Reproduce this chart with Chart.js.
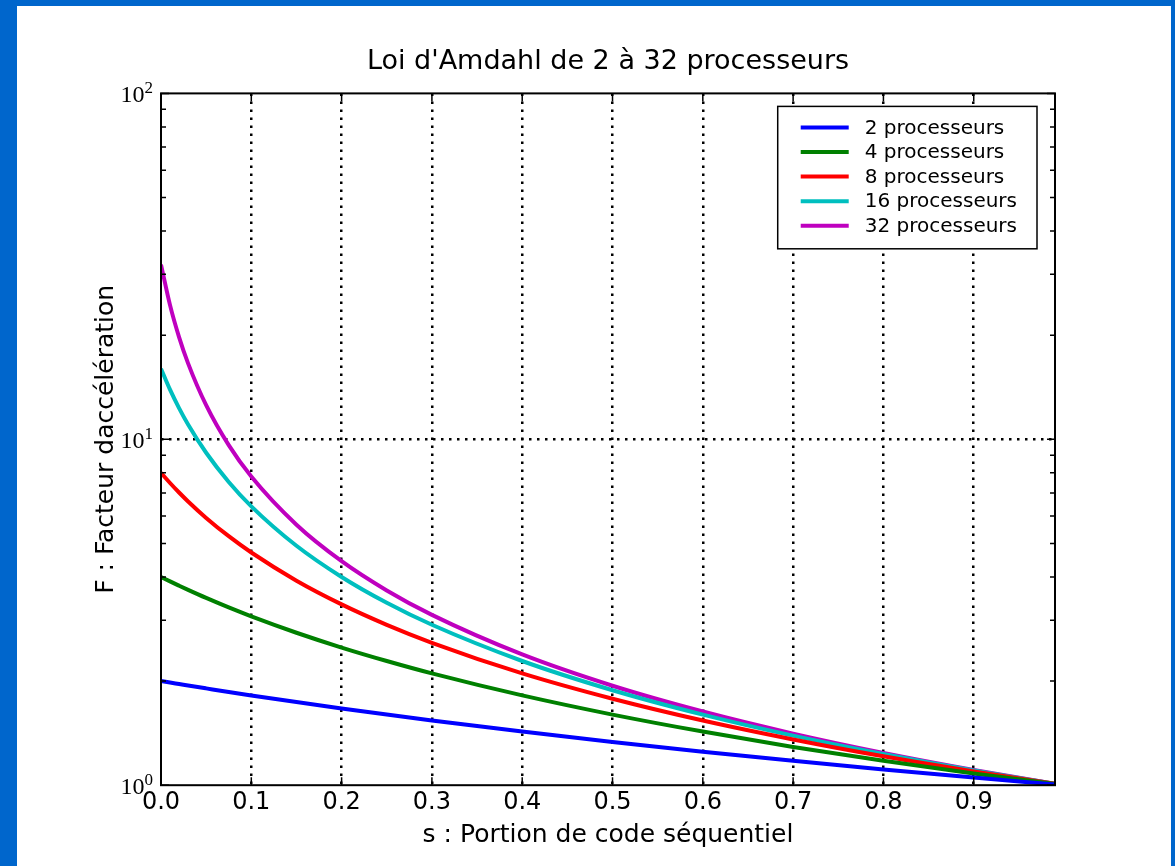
<!DOCTYPE html>
<html>
<head>
<meta charset="utf-8">
<script src="https://cdn.jsdelivr.net/npm/chart.js@4.4.0/dist/chart.umd.min.js"></script>
<style>
body { margin: 0; background: #0066cc; width: 1175px; height: 866px; overflow: hidden; }
#panel { position: absolute; left: 17px; top: 6px; width: 1154px; height: 860px; background: #fff; }
canvas { display: block; }
</style>
</head>
<body>
<div id="panel"><canvas id="amdahl" width="1154" height="860"></canvas></div>
<script>
// s : portion sequentielle du code
const sValues = [0, 0.01, 0.02, 0.03, 0.05, 0.075, 0.1, 0.15, 0.2, 0.25, 0.3, 0.4, 0.5, 0.6, 0.7, 0.8, 0.9, 0.99];

// facteur d'acceleration
const speedup2  = [2.0, 1.98, 1.961, 1.942, 1.905, 1.86, 1.818, 1.739, 1.667, 1.6, 1.538, 1.429, 1.333, 1.25, 1.176, 1.111, 1.053, 1.005];
const speedup4  = [4.0, 3.883, 3.774, 3.67, 3.478, 3.265, 3.077, 2.759, 2.5, 2.286, 2.105, 1.818, 1.6, 1.429, 1.29, 1.176, 1.081, 1.008];
const speedup8  = [8.0, 7.477, 7.018, 6.612, 5.926, 5.246, 4.706, 3.902, 3.333, 2.909, 2.581, 2.105, 1.778, 1.538, 1.356, 1.212, 1.096, 1.009];
const speedup16 = [16.0, 13.913, 12.308, 11.034, 9.143, 7.529, 6.4, 4.923, 4.0, 3.368, 2.909, 2.286, 1.882, 1.6, 1.391, 1.231, 1.103, 1.01];
const speedup32 = [32.0, 24.43, 19.75, 16.58, 12.55, 9.62, 7.805, 5.664, 4.444, 3.657, 3.107, 2.388, 1.939, 1.633, 1.41, 1.24, 1.107, 1.01];

const seriesLabels = ['2 processeurs', '4 processeurs', '8 processeurs', '16 processeurs', '32 processeurs'];
const seriesColors = ['#0000ff', '#008000', '#ff0000', '#00bfbf', '#bf00bf'];

const xTicks = [0, 0.1, 0.2, 0.3, 0.4, 0.5, 0.6, 0.7, 0.8, 0.9];
const yMajorTicks = [1, 10, 100];
const yTickBase = '10';
const yTickExponents = ['0', '1', '2'];
const yMinorTicks = [2, 3, 4, 5, 6, 7, 8, 9, 20, 30, 40, 50, 60, 70, 80, 90];

const series = [speedup2, speedup4, speedup8, speedup16, speedup32];

// cadre, graduations vers l'interieur, etiquettes 10^n et legende
const framePlugin = {
    id: 'frame',
    afterDraw(chart) {
        const { ctx, chartArea: a, scales: { x, y } } = chart;
        ctx.save();
        ctx.strokeStyle = '#000';
        ctx.lineWidth = 1.5;
        ctx.beginPath();
        xTicks.forEach(v => {
            const px = x.getPixelForValue(v);
            ctx.moveTo(px, a.bottom); ctx.lineTo(px, a.bottom - 8);
            ctx.moveTo(px, a.top); ctx.lineTo(px, a.top + 8);
        });
        yMajorTicks.forEach(v => {
            const py = y.getPixelForValue(v);
            ctx.moveTo(a.left, py); ctx.lineTo(a.left + 8, py);
            ctx.moveTo(a.right, py); ctx.lineTo(a.right - 8, py);
        });
        yMinorTicks.forEach(v => {
            const py = y.getPixelForValue(v);
            ctx.moveTo(a.left, py); ctx.lineTo(a.left + 5, py);
            ctx.moveTo(a.right, py); ctx.lineTo(a.right - 5, py);
        });
        ctx.stroke();
        ctx.lineWidth = 2;
        ctx.strokeRect(a.left, a.top, a.right - a.left, a.bottom - a.top);

        // etiquettes de l'axe y
        ctx.fillStyle = '#000';
        ctx.textAlign = 'right';
        ctx.textBaseline = 'alphabetic';
        yMajorTicks.forEach((v, i) => {
            const py = y.getPixelForValue(v);
            ctx.font = '17px "Liberation Serif"';
            const expW = ctx.measureText(yTickExponents[i]).width;
            ctx.fillText(yTickExponents[i], a.left - 8, py);
            ctx.font = '24px "Liberation Serif"';
            ctx.fillText(yTickBase, a.left - 8 - expW, py + 9);
        });

        // legende
        ctx.font = '20px "DejaVu Sans"';
        let textW = 0;
        chart.data.datasets.forEach(ds => { textW = Math.max(textW, ctx.measureText(ds.label).width); });
        const boxW = 87 + textW + 20;
        const rowH = 24.6;
        const boxH = 21 + rowH * 4 + 23;
        const bx = a.right - 18 - boxW;
        const by = a.top + 13;
        ctx.fillStyle = '#fff';
        ctx.fillRect(bx, by, boxW, boxH);
        ctx.lineWidth = 1.5;
        ctx.strokeRect(bx, by, boxW, boxH);
        ctx.textAlign = 'left';
        ctx.textBaseline = 'middle';
        chart.data.datasets.forEach((ds, i) => {
            const ry = by + 21 + i * rowH;
            ctx.strokeStyle = ds.borderColor;
            ctx.lineWidth = 4;
            ctx.beginPath();
            ctx.moveTo(bx + 23, ry); ctx.lineTo(bx + 71, ry);
            ctx.stroke();
            ctx.fillStyle = '#000';
            ctx.fillText(ds.label, bx + 87, ry + 1);
        });
        ctx.restore();
    }
};

const datasets = series.map((vals, i) => ({
    label: seriesLabels[i],
    data: sValues.map((s, j) => ({ x: s, y: vals[j] })),
    borderColor: seriesColors[i],
    borderWidth: 4,
    pointRadius: 0,
    fill: false,
    cubicInterpolationMode: 'monotone'
}));

new Chart(document.getElementById('amdahl'), {
    type: 'line',
    data: { datasets: datasets },
    options: {
        responsive: false,
        animation: false,
        layout: { padding: { top: 0, left: 74, right: 116, bottom: 16 } },
        plugins: {
            legend: { display: false },
            tooltip: { enabled: false },
            title: {
                display: true,
                text: "Loi d'Amdahl de 2 à 32 processeurs",
                color: '#000',
                fullSize: false,
                font: { family: 'DejaVu Sans', size: 27, weight: 'normal' },
                padding: { top: 40, bottom: 15 }
            }
        },
        scales: {
            x: {
                type: 'linear',
                min: 0,
                max: 0.99,
                afterBuildTicks: scale => { scale.ticks = xTicks.map(v => ({ value: v })); },
                ticks: {
                    color: '#000',
                    padding: 3,
                    font: { family: 'DejaVu Sans', size: 24 },
                    callback: v => v.toFixed(1)
                },
                grid: {
                    drawTicks: false,
                    lineWidth: 2.5,
                    color: c => (c.tick && c.tick.value > 0) ? '#000' : 'rgba(0,0,0,0)'
                },
                border: { display: false, dash: [2.5, 5.5] },
                title: {
                    display: true,
                    text: 's : Portion de code séquentiel',
                    color: '#000',
                    font: { family: 'DejaVu Sans', size: 25 },
                    padding: { top: 0, bottom: 0 }
                }
            },
            y: {
                type: 'logarithmic',
                min: 1,
                max: 100,
                ticks: { display: false },
                grid: {
                    drawTicks: false,
                    lineWidth: 2.5,
                    color: c => (c.tick && c.tick.value === 10) ? '#000' : 'rgba(0,0,0,0)'
                },
                border: { display: false, dash: [2.5, 5.5] },
                title: {
                    display: true,
                    text: 'F : Facteur daccélération',
                    color: '#000',
                    font: { family: 'DejaVu Sans', size: 25 },
                    padding: { top: 0, bottom: 40 }
                }
            }
        }
    },
    plugins: [framePlugin]
});
</script>
</body>
</html>
